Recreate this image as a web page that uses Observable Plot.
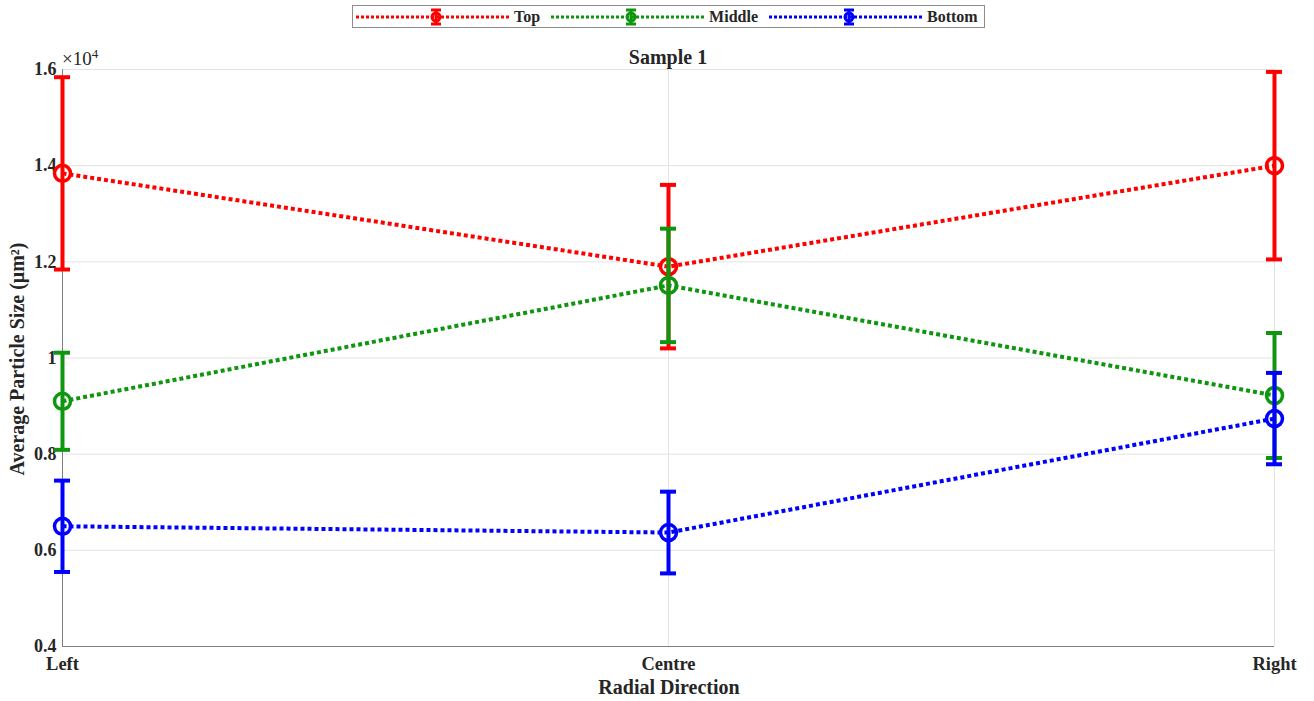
<!DOCTYPE html>
<html>
<head>
<meta charset="utf-8">
<script src="https://cdn.jsdelivr.net/npm/d3@7"></script>
<script src="https://cdn.jsdelivr.net/npm/@observablehq/plot@0.6"></script>
<style>
  body { margin: 0; background: #fff; }
  #wrap { position: relative; width: 1314px; height: 701px; font-family: "Liberation Serif", "Times New Roman", serif; }
  .lbl { position: absolute; font-weight: bold; color: #262626; white-space: nowrap; line-height: 1; }
  #legend { position: absolute; left: 352px; top: 5px; width: 633px; height: 23px; border: 1px solid #8c8c8c; background: #fff; display: flex; align-items: center; box-sizing: border-box; }
  .entry { display: flex; align-items: center; font-weight: bold; font-size: 16px; color: #262626; margin-right: 8px; }
  .entry svg { display: block; margin-right: 5px; }
</style>
</head>
<body>
<div id="wrap">
  <div id="chart"></div>
  <div id="legend"></div>
  <div class="lbl" style="left:0;width:1336px;text-align:center;top:47px;font-size:20px;">Sample 1</div>
  <div class="lbl" style="left:62px;top:47px;font-size:19px;font-weight:normal;">×10<sup style="font-size:13px;vertical-align:7px;">4</sup></div>
  <div class="lbl" style="left:0;width:1338px;text-align:center;top:677px;font-size:20px;">Radial Direction</div>
  <div class="lbl" style="left:17px;top:359px;font-size:20px;transform:translate(-50%,-50%) rotate(-90deg);">Average Particle Size (μm²)</div>
</div>
<script>
const positions = ["Left", "Centre", "Right"];
const seriesNames = ["Top", "Middle", "Bottom"];
const seriesColors = ["#ff0000", "#0f960f", "#0000ff"];
const topMean = [13840, 11900, 14000];
const topErr = [2000, 1700, 1950];
const middleMean = [9100, 11510, 9220];
const middleErr = [1010, 1180, 1300];
const bottomMean = [6500, 6370, 8740];
const bottomErr = [950, 850, 950];
const yTicks = [4000, 6000, 8000, 10000, 12000, 14000, 16000];

const means = [topMean, middleMean, bottomMean];
const errs = [topErr, middleErr, bottomErr];
const rows = [];
seriesNames.forEach((s, si) => {
  positions.forEach((p, pi) => {
    rows.push({series: s, pos: p, mean: means[si][pi], lo: means[si][pi] - errs[si][pi], hi: means[si][pi] + errs[si][pi]});
  });
});

const colorScale = {domain: seriesNames, range: seriesColors};
const marks = [
  Plot.gridY(yTicks, {stroke: "#e3e3e3", strokeOpacity: 1}),
  Plot.gridX(positions, {stroke: "#e3e3e3", strokeOpacity: 1}),
  Plot.ruleY([4000], {stroke: "#808080"}),
  Plot.ruleX([positions[0]], {stroke: "#808080"}),
  Plot.axisY(yTicks, {tickSize: 0, tickPadding: 6, tickFormat: d => d3.format("~g")(d / 10000), fontSize: 18, fontWeight: "bold", fill: "#262626", label: null}),
  Plot.axisX(positions, {tickSize: 0, tickPadding: 10, fontSize: 18.5, fontWeight: "bold", fill: "#262626", label: null}),
];
seriesNames.forEach(s => {
  const d = rows.filter(r => r.series === s);
  marks.push(
    Plot.line(d, {x: "pos", y: "mean", stroke: "series", strokeWidth: 4, strokeDasharray: "4,3", strokeLinecap: "butt"}),
    Plot.ruleX(d, {x: "pos", y1: "lo", y2: "hi", stroke: "series", strokeWidth: 4}),
    Plot.ruleY(d, {y: "hi", x1: "pos", x2: "pos", stroke: "series", strokeWidth: 4, insetLeft: -8, insetRight: -8}),
    Plot.ruleY(d, {y: "lo", x1: "pos", x2: "pos", stroke: "series", strokeWidth: 4, insetLeft: -8, insetRight: -8}),
    Plot.dot(d, {x: "pos", y: "mean", stroke: "series", r: 8, strokeWidth: 3.5, fill: "none"})
  );
});

const chart = Plot.plot({
  width: 1314,
  height: 701,
  marginLeft: 62,
  marginRight: 40,
  marginTop: 69,
  marginBottom: 55,
  style: {fontFamily: "'Liberation Serif', 'Times New Roman', serif", background: "transparent"},
  x: {type: "point", domain: positions, padding: 0},
  y: {domain: [4000, 16000]},
  color: colorScale,
  marks
});
document.getElementById("chart").appendChild(chart);

const legend = document.getElementById("legend");
seriesNames.forEach((s, i) => {
  const c = seriesColors[i];
  const e = document.createElement("div");
  e.className = "entry";
  e.innerHTML = `<svg width="153" height="18" style="margin-left:3px"><line x1="0" x2="153" y1="9" y2="9" stroke="${c}" stroke-width="3" stroke-dasharray="3,2"/><line x1="80" x2="80" y1="2" y2="16" stroke="${c}" stroke-width="3"/><line x1="75" x2="85" y1="2" y2="2" stroke="${c}" stroke-width="3"/><line x1="75" x2="85" y1="16" y2="16" stroke="${c}" stroke-width="3"/><circle cx="80" cy="9" r="4" fill="none" stroke="${c}" stroke-width="3"/></svg>${s}`;
  legend.appendChild(e);
});
</script>
</body>
</html>
